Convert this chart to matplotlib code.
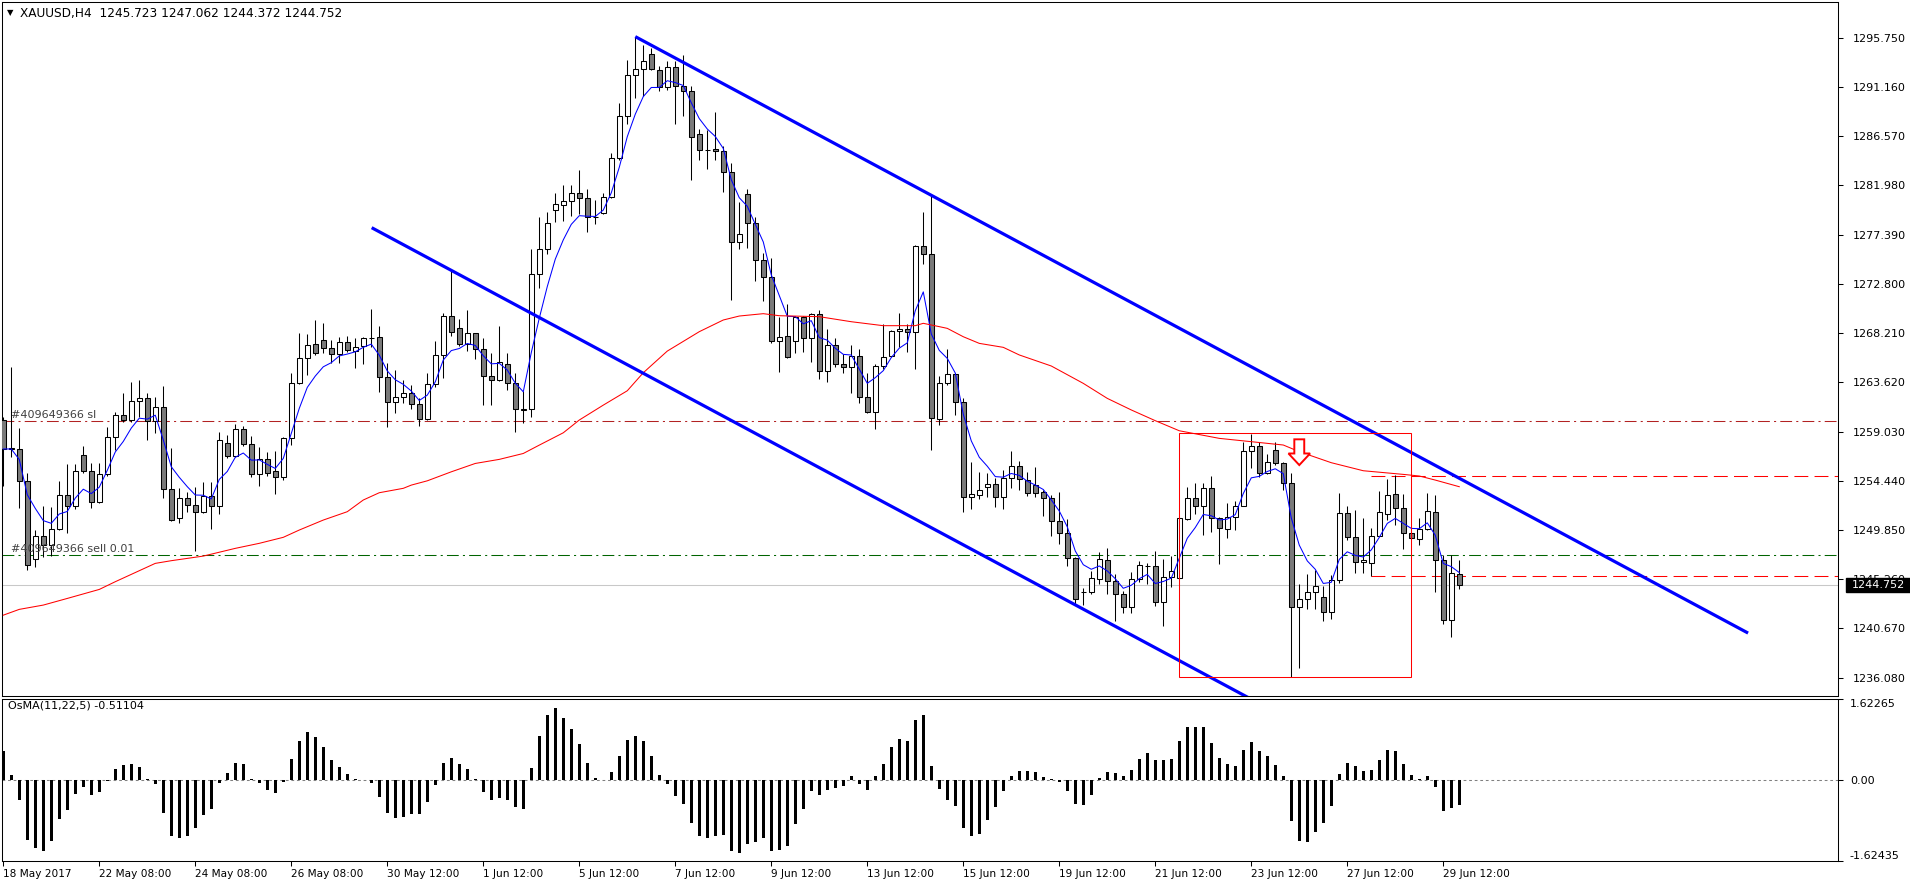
import matplotlib
matplotlib.use("Agg")
import matplotlib.pyplot as plt
import numpy as np
import pandas as pd
from matplotlib.patches import Rectangle, Polygon
from matplotlib.ticker import FormatStrFormatter

plt.rcParams['font.family'] = ['DejaVu Sans']
plt.rcParams['lines.scale_dashes'] = False

# XAUUSD H4 candles (bar 0 = 18 May 2017)
opens = [1260.10, 1257.45, 1257.40, 1254.44, 1247.10, 1249.31, 1248.44, 1249.96, 1253.07, 1252.05,
         1256.81, 1255.31, 1252.42, 1255.03, 1258.55, 1260.54, 1260.07, 1261.84, 1262.12, 1260.01,
         1261.28, 1253.63, 1250.93, 1252.79, 1252.14, 1251.55, 1253.04, 1252.05, 1257.93, 1256.78,
         1259.26, 1257.83, 1255.03, 1256.43, 1255.35, 1254.82, 1258.39, 1263.52, 1265.85, 1267.16,
         1267.53, 1266.79, 1266.22, 1267.34, 1266.57, 1266.97, 1267.75, 1267.81, 1264.08, 1261.74,
         1262.21, 1262.58, 1261.56, 1260.16, 1263.42, 1266.13, 1269.77, 1268.65, 1267.16, 1268.18,
         1266.69, 1264.17, 1263.80, 1265.29, 1263.52, 1261.05, 1261.09, 1273.69, 1276.02, 1279.66,
         1280.13, 1280.50, 1281.24, 1280.78, 1279.01, 1279.38, 1280.87, 1284.51, 1288.43, 1292.25,
         1292.81, 1294.21, 1292.72, 1291.13, 1293.00, 1291.23, 1290.76, 1286.75, 1285.32, 1285.35,
         1285.16, 1283.20, 1276.67, 1281.15, 1278.45, 1275.00, 1273.41, 1267.50, 1267.91, 1267.50,
         1269.68, 1267.72, 1269.96, 1264.64, 1267.07, 1265.29, 1265.08, 1266.04, 1262.21, 1260.88,
         1265.11, 1266.10, 1268.37, 1268.56, 1268.28, 1276.30, 1275.56, 1260.16, 1263.52, 1264.36,
         1261.75, 1252.95, 1253.10, 1253.82, 1254.13, 1252.89, 1254.66, 1255.81, 1254.51, 1254.04,
         1253.35, 1252.79, 1250.71, 1249.53, 1247.20, 1244.02, 1244.02, 1245.24, 1247.01, 1245.11,
         1243.84, 1242.62, 1245.24, 1246.48, 1246.48, 1243.15, 1245.42, 1245.33, 1250.83, 1252.79,
         1252.08, 1253.72, 1250.93, 1249.90, 1251.02, 1252.11, 1257.18, 1257.64, 1255.12, 1257.27,
         1256.06, 1254.19, 1242.68, 1243.37, 1244.02, 1243.55, 1242.22, 1245.17, 1251.39, 1249.22,
         1246.82, 1246.73, 1249.31, 1251.30, 1253.20, 1251.86, 1249.53, 1248.97, 1249.90, 1251.49,
         1247.04, 1241.44, 1245.723]
highs = [1260.40, 1265.08, 1259.33, 1255.13, 1249.84, 1252.11, 1252.02, 1254.44, 1255.97, 1255.97,
         1257.68, 1256.06, 1256.06, 1259.42, 1260.85, 1262.59, 1263.62, 1263.83, 1262.59, 1262.28,
         1263.28, 1257.46, 1253.73, 1253.42, 1253.88, 1254.35, 1254.35, 1258.98, 1258.67, 1259.70,
         1259.54, 1258.64, 1257.62, 1257.15, 1257.21, 1258.55, 1264.46, 1268.24, 1268.12, 1269.43,
         1269.18, 1267.56, 1267.87, 1267.93, 1267.72, 1267.87, 1270.45, 1268.87, 1265.45, 1264.76,
         1263.83, 1263.36, 1262.12, 1264.45, 1267.47, 1270.11, 1274.09, 1269.49, 1270.36, 1268.24,
         1267.72, 1266.32, 1268.87, 1266.32, 1264.45, 1262.83, 1276.05, 1279.01, 1279.47, 1281.24,
         1281.99, 1281.99, 1283.39, 1281.62, 1280.62, 1281.24, 1284.98, 1289.70, 1293.68, 1295.86,
         1295.08, 1294.77, 1293.16, 1293.59, 1293.59, 1294.15, 1291.26, 1287.25, 1287.12, 1288.80,
         1285.69, 1284.04, 1280.40, 1281.62, 1279.07, 1275.65, 1275.18, 1269.68, 1270.89, 1269.83,
         1269.83, 1270.11, 1270.36, 1268.59, 1267.72, 1266.23, 1267.10, 1266.69, 1264.45, 1265.29,
         1269.06, 1268.50, 1270.05, 1269.02, 1276.46, 1279.51, 1281.09, 1264.20, 1266.69, 1264.51,
         1262.12, 1256.21, 1255.25, 1255.19, 1254.66, 1255.44, 1257.21, 1256.28, 1255.22, 1255.75,
         1253.57, 1253.11, 1253.35, 1250.87, 1247.35, 1244.46, 1246.05, 1247.82, 1248.13, 1245.74,
         1244.18, 1245.89, 1246.95, 1246.73, 1247.91, 1247.13, 1247.45, 1251.08, 1253.88, 1254.19,
         1254.19, 1254.88, 1251.02, 1252.33, 1252.54, 1258.08, 1258.79, 1258.08, 1256.90, 1258.08,
         1256.15, 1255.12, 1244.80, 1245.73, 1246.11, 1244.61, 1245.64, 1253.26, 1252.08, 1251.70,
         1250.93, 1250.05, 1253.48, 1254.56, 1254.97, 1253.20, 1249.84, 1250.93, 1253.26, 1253.10,
         1247.50, 1247.50, 1247.062]
lows = [1253.94, 1256.68, 1251.86, 1246.11, 1246.36, 1247.35, 1247.45, 1249.84, 1249.53, 1251.80,
        1255.13, 1251.86, 1252.33, 1254.91, 1257.30, 1259.95, 1259.95, 1260.41, 1258.24, 1258.86,
        1252.79, 1250.70, 1250.46, 1251.55, 1247.91, 1251.46, 1249.90, 1251.30, 1256.53, 1256.68,
        1257.68, 1254.82, 1253.94, 1254.88, 1253.17, 1254.51, 1257.77, 1263.45, 1264.29, 1266.16,
        1266.32, 1265.38, 1265.45, 1266.47, 1264.98, 1265.32, 1266.94, 1262.74, 1259.41, 1260.78,
        1261.65, 1261.09, 1259.54, 1260.10, 1263.21, 1263.98, 1267.93, 1267.00, 1266.57, 1265.79,
        1261.50, 1261.50, 1263.70, 1262.89, 1259.01, 1259.85, 1260.41, 1272.38, 1275.62, 1278.60,
        1278.69, 1279.16, 1279.29, 1277.67, 1278.38, 1279.30, 1280.78, 1284.35, 1287.71, 1290.17,
        1290.36, 1292.75, 1290.82, 1290.89, 1287.74, 1288.49, 1282.52, 1284.39, 1283.52, 1284.36,
        1281.40, 1271.26, 1276.02, 1276.11, 1273.07, 1271.23, 1267.25, 1264.61, 1265.90, 1266.32,
        1266.47, 1265.54, 1263.96, 1263.61, 1265.01, 1264.52, 1262.65, 1261.65, 1260.72, 1259.23,
        1264.89, 1266.01, 1266.94, 1266.47, 1264.83, 1274.62, 1257.30, 1259.60, 1263.36, 1260.57,
        1251.48, 1251.76, 1252.70, 1252.95, 1251.95, 1251.80, 1253.79, 1253.57, 1253.04, 1252.95,
        1251.18, 1249.31, 1248.50, 1246.51, 1242.94, 1242.84, 1243.87, 1244.80, 1243.87, 1241.35,
        1242.13, 1242.13, 1244.96, 1244.80, 1242.78, 1240.91, 1244.55, 1245.30, 1250.77, 1251.30,
        1249.37, 1249.68, 1246.66, 1249.12, 1249.84, 1252.05, 1255.65, 1254.75, 1255.10, 1255.90,
        1253.57, 1236.15, 1236.93, 1242.43, 1242.43, 1241.38, 1241.50, 1244.92, 1248.90, 1245.86,
        1245.79, 1245.55, 1249.28, 1250.77, 1250.30, 1248.03, 1249.00, 1248.44, 1249.84, 1244.08,
        1241.07, 1239.82, 1244.372]
closes = [1257.40, 1257.40, 1254.44, 1246.57, 1249.31, 1248.44, 1249.96, 1253.07, 1252.05, 1255.31,
          1255.31, 1252.42, 1255.03, 1258.55, 1260.54, 1260.07, 1261.84, 1262.12, 1260.01, 1261.28,
          1253.63, 1250.74, 1252.79, 1252.14, 1251.55, 1253.04, 1252.05, 1258.21, 1256.78, 1259.26,
          1257.83, 1255.03, 1256.43, 1255.13, 1254.82, 1258.39, 1263.52, 1265.85, 1267.06, 1266.32,
          1266.79, 1266.22, 1267.34, 1266.60, 1266.88, 1267.72, 1267.78, 1264.08, 1261.74, 1262.21,
          1262.58, 1261.56, 1260.16, 1263.42, 1266.13, 1269.77, 1268.34, 1267.16, 1268.18, 1266.69,
          1264.17, 1263.83, 1265.48, 1263.52, 1261.09, 1261.12, 1273.69, 1276.02, 1278.45, 1280.22,
          1280.50, 1281.24, 1280.78, 1279.01, 1279.05, 1280.87, 1284.51, 1288.43, 1292.25, 1292.81,
          1293.56, 1292.81, 1291.13, 1293.00, 1291.23, 1290.76, 1286.47, 1285.26, 1285.30, 1285.16,
          1283.20, 1276.67, 1277.48, 1278.45, 1275.00, 1273.41, 1267.50, 1267.81, 1265.95, 1269.68,
          1267.72, 1269.96, 1264.64, 1267.07, 1265.29, 1265.08, 1266.04, 1262.21, 1260.88, 1265.11,
          1266.01, 1268.37, 1268.56, 1268.28, 1276.30, 1275.56, 1260.29, 1263.52, 1264.36, 1261.75,
          1252.95, 1253.19, 1253.57, 1254.13, 1252.88, 1254.66, 1255.81, 1254.57, 1253.32, 1253.32,
          1252.79, 1250.71, 1249.53, 1247.20, 1243.37, 1244.05, 1245.33, 1247.10, 1245.11, 1243.84,
          1242.62, 1245.24, 1246.54, 1246.50, 1243.15, 1245.42, 1245.98, 1250.93, 1252.79, 1252.08,
          1253.72, 1250.93, 1249.99, 1251.02, 1252.11, 1257.18, 1257.64, 1255.12, 1256.21, 1256.06,
          1254.19, 1242.68, 1243.37, 1244.02, 1244.61, 1242.22, 1245.17, 1251.39, 1249.22, 1246.82,
          1247.01, 1249.31, 1251.49, 1253.07, 1251.86, 1249.53, 1249.06, 1249.90, 1251.61, 1247.04,
          1241.44, 1245.86, 1244.752]

# OsMA(11,22,5) histogram
osma = [0.59, 0.10, -0.41, -1.20, -1.37, -1.43, -1.22, -0.78, -0.60, -0.28,
        -0.15, -0.30, -0.24, -0.02, 0.22, 0.30, 0.32, 0.26, 0.02, -0.09,
        -0.67, -1.13, -1.17, -1.12, -0.96, -0.70, -0.58, -0.07, 0.13, 0.34,
        0.32, 0.02, -0.07, -0.20, -0.26, -0.05, 0.42, 0.79, 0.97, 0.86,
        0.66, 0.40, 0.26, 0.12, 0.01, -0.01, -0.07, -0.34, -0.66, -0.76,
        -0.74, -0.68, -0.68, -0.44, -0.11, 0.34, 0.45, 0.32, 0.22, 0.02,
        -0.24, -0.40, -0.36, -0.40, -0.55, -0.58, 0.24, 0.88, 1.30, 1.45,
        1.25, 1.03, 0.72, 0.34, 0.04, -0.01, 0.16, 0.48, 0.81, 0.89,
        0.78, 0.49, 0.10, -0.08, -0.33, -0.48, -0.86, -1.12, -1.17, -1.13,
        -1.11, -1.43, -1.47, -1.29, -1.25, -1.17, -1.43, -1.40, -1.33, -0.88,
        -0.58, -0.23, -0.30, -0.20, -0.16, -0.13, 0.07, -0.09, -0.21, 0.07,
        0.32, 0.66, 0.82, 0.78, 1.21, 1.31, 0.28, -0.19, -0.40, -0.53,
        -0.96, -1.13, -1.08, -0.81, -0.55, -0.22, 0.08, 0.18, 0.18, 0.15,
        0.05, 0.02, -0.05, -0.22, -0.49, -0.50, -0.30, 0.03, 0.16, 0.14,
        0.07, 0.20, 0.42, 0.54, 0.40, 0.40, 0.43, 0.78, 1.07, 1.07,
        1.07, 0.74, 0.44, 0.31, 0.28, 0.60, 0.76, 0.59, 0.49, 0.30,
        0.07, -0.82, -1.22, -1.25, -1.05, -0.86, -0.53, 0.12, 0.34, 0.28,
        0.17, 0.20, 0.40, 0.60, 0.58, 0.32, 0.09, 0.01, 0.08, -0.15,
        -0.62, -0.57, -0.51104]
osma_lo, osma_hi = -1.62435, 1.62265

# slow moving average (red), read at a subset of bars
ma_bar = [0, 2, 5, 8, 12, 14, 19, 21, 25, 29, 32, 35, 37, 40, 43, 45, 47, 50, 51, 53,
          56, 59, 62, 65, 67, 70, 72, 75, 78, 80, 83, 87, 90, 92, 95, 97, 102, 106, 110, 114,
          115, 117, 118, 120, 122, 125, 127, 131, 135, 138, 141, 144, 147, 152, 156, 160, 162, 166, 170, 175,
          177, 179, 182]
ma_val = [1241.90, 1242.44, 1242.84, 1243.46, 1244.30, 1245.02, 1246.73, 1246.98, 1247.41, 1248.13,
          1248.60, 1249.16, 1249.84, 1250.77, 1251.55, 1252.64, 1253.32, 1253.73, 1254.03, 1254.43,
          1255.27, 1256.05, 1256.43, 1256.98, 1257.76, 1258.91, 1260.10, 1261.49, 1262.83, 1264.51,
          1266.53, 1268.34, 1269.43, 1269.80, 1270.02, 1269.83, 1269.74, 1269.27, 1268.90, 1268.90,
          1269.12, 1268.81, 1268.65, 1267.87, 1267.25, 1266.88, 1266.17, 1265.14, 1263.52, 1262.12,
          1261.04, 1260.04, 1259.10, 1258.39, 1258.08, 1257.77, 1257.15, 1256.12, 1255.37, 1255.03,
          1254.88, 1254.50, 1253.88]

# drawn objects: channel lines (bar, price), rectangle, arrow, order levels
upper_bar, upper_price = [79, 218.1], [1295.86, 1240.23]
lower_bar, lower_price = [46.05, 160], [1278.04, 1232.46]
rect_bar, rect_price = [147, 176], [1236.10, 1258.86]
arrow_bar, arrow_top, arrow_tip = 162, 1258.30, 1255.90
sl_price, sell_price, bid_price = 1260.00, 1247.48, 1244.752
level_start, level_prices = 171, [1254.90, 1245.52]
order_id = '#409649366'

price_ticks = [1236.080, 1240.670, 1245.260, 1249.850, 1254.440, 1259.030, 1263.620,
               1268.210, 1272.800, 1277.390, 1281.980, 1286.570, 1291.160, 1295.750]
tick_bars = [0, 12, 24, 36, 48, 60, 72, 84, 96, 108, 120, 132, 144, 156, 168, 180]
tick_labels = ['18 May 2017', '22 May 08:00', '24 May 08:00', '26 May 08:00', '30 May 12:00',
               '1 Jun 12:00', '5 Jun 12:00', '7 Jun 12:00', '9 Jun 12:00', '13 Jun 12:00',
               '15 Jun 12:00', '19 Jun 12:00', '21 Jun 12:00', '23 Jun 12:00', '27 Jun 12:00',
               '29 Jun 12:00']

W, H = 1910, 884
fig = plt.figure(figsize=(W / 100, H / 100), dpi=100)


def px_axes(x0, y0, x1, y1):
    return fig.add_axes([x0 / W, 1 - y1 / H, (x1 - x0) / W, (y1 - y0) / H])


ax = px_axes(2, 2, 1838, 696)
ax2 = px_axes(2, 699, 1838, 861)
XMIN, XMAX = -0.16, 229.34
LW = 0.75

# candles
o, h, l, c = map(np.array, (opens, highs, lows, closes))
idx = np.arange(len(c))
up = c >= o
ax.vlines(idx, l, h, color='black', lw=LW, zorder=2)
lo_body, hi_body = np.minimum(o, c), np.abs(c - o)
ax.bar(idx[up], hi_body[up], bottom=lo_body[up], width=0.6, color='white',
       edgecolor='black', linewidth=LW, zorder=3)
ax.bar(idx[~up], hi_body[~up], bottom=lo_body[~up], width=0.6, color='#7a7a7a',
       edgecolor='black', linewidth=LW, zorder=3)

# fast EMA(5) of close, slow MA
ema = pd.Series(closes).ewm(span=5, adjust=False).mean()
ax.plot(idx, ema, color='#0000ff', lw=LW, zorder=4)
ax.plot(ma_bar, ma_val, color='#ff0000', lw=LW, zorder=4)

# levels
ax.axhline(bid_price, color='#c8c8c8', lw=LW, zorder=1)
ax.axhline(sl_price, color='#b22222', lw=LW, dashes=(8.5, 3, 1.5, 3), zorder=1)
ax.axhline(sell_price, color='#006400', lw=LW, dashes=(8.5, 3, 1.5, 3), zorder=1)
for lv in level_prices:
    ax.plot([level_start, XMAX], [lv, lv], color='#ff0000', lw=LW, dashes=(10, 4.5), zorder=1)
ax.text(1.0, sl_price + 0.12, order_id + ' sl', fontsize=8, color='#404040', va='bottom')
ax.text(1.0, sell_price + 0.12, order_id + ' sell 0.01', fontsize=8, color='#404040', va='bottom')

# channel lines
ax.plot(upper_bar, upper_price, color='#0000ff', lw=2.3, zorder=5, solid_capstyle='butt')
ax.plot(lower_bar, lower_price, color='#0000ff', lw=2.3, zorder=5, solid_capstyle='butt')

# rectangle and arrow
ax.add_patch(Rectangle((rect_bar[0], rect_price[0]), rect_bar[1] - rect_bar[0],
                       rect_price[1] - rect_price[0], fill=False, edgecolor='#ff0000',
                       lw=LW, zorder=6))
shaft = (arrow_top - arrow_tip) * 0.55
arrow_pts = [(arrow_bar - 0.62, arrow_top), (arrow_bar + 0.62, arrow_top),
             (arrow_bar + 0.62, arrow_top - shaft), (arrow_bar + 1.35, arrow_top - shaft),
             (arrow_bar, arrow_tip), (arrow_bar - 1.35, arrow_top - shaft),
             (arrow_bar - 0.62, arrow_top - shaft)]
ax.add_patch(Polygon(arrow_pts, closed=True, facecolor='white', edgecolor='#ff0000',
                     lw=1.4, zorder=7))

ax.set_xlim(XMIN, XMAX)
ax.set_ylim(1234.36, 1299.09)
ax.yaxis.tick_right()
ax.set_yticks(price_ticks)
ax.yaxis.set_major_formatter(FormatStrFormatter('%.3f'))
ax.tick_params(axis='y', direction='out', length=3.6, width=LW, pad=7, labelsize=8)
ax.tick_params(axis='x', bottom=False, labelbottom=False)

# OsMA panel
ax2.bar(idx, osma, width=0.4, color='black', zorder=3)
ax2.axhline(0, color='#808080', lw=LW, dashes=(2, 2), zorder=2)
ax2.set_xlim(XMIN, XMAX)
ax2.set_ylim(osma_lo, osma_hi)
ax2.yaxis.tick_right()
ax2.set_yticks([osma_hi, 0, osma_lo])
ax2.set_yticklabels([f'{osma_hi:.5f}', '0.00', f'{osma_lo:.5f}'])
ax2.tick_params(axis='y', direction='out', length=3.6, width=LW, pad=5, labelsize=8)
ylabs = ax2.get_yticklabels()
ylabs[0].set_va('top')
ylabs[2].set_va('bottom')
ax2.set_xticks(tick_bars)
ax2.set_xticklabels(tick_labels, ha='left')
ax2.tick_params(axis='x', direction='out', length=3.6, width=LW, pad=2, labelsize=7.6)

for a in (ax, ax2):
    for s in a.spines.values():
        s.set_linewidth(LW)
        s.set_color('black')

# header texts
fig.text(7 / W, 1 - 13 / H, '\u25bc', fontsize=6, va='center')
fig.text(20 / W, 1 - 13.5 / H,
         f'XAUUSD,H4  {opens[-1]:.3f} {highs[-1]:.3f} {lows[-1]:.3f} {closes[-1]:.3f}',
         fontsize=8.7, va='center')
fig.text(8 / W, 1 - 706 / H, f'OsMA(11,22,5) {osma[-1]:.5f}', fontsize=8, va='center')

# current price box on the price scale (it hides most of the 1245.260 label, as in MT4)
y_bid = ax.transData.transform((0, bid_price))[1]
fig.patches.append(Rectangle((1846 / W, (y_bid - 7) / H), 64 / W, 14 / H,
                             transform=fig.transFigure, color='black', zorder=10))
fig.text(1852 / W, y_bid / H, f'{bid_price:.3f}', color='white', fontsize=8,
         va='center', zorder=11)

fig.savefig('out.png', dpi=100)
